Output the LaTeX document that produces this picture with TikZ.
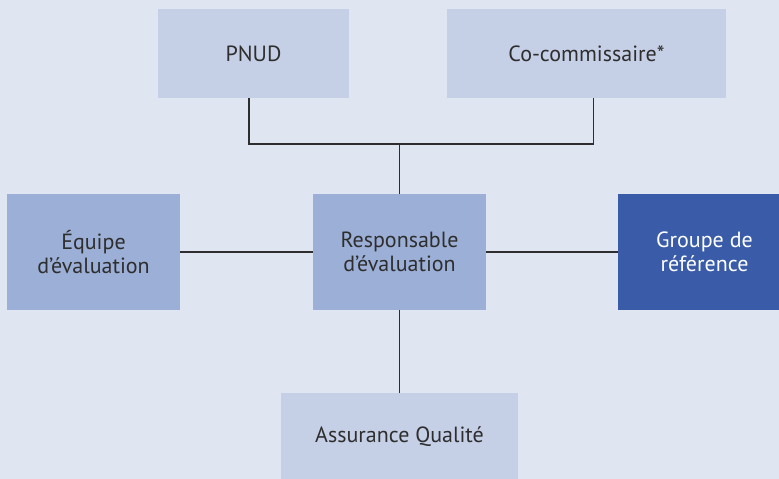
\documentclass[tikz,border=0pt]{standalone}
\usepackage{fontspec}
\setmainfont{PT Sans}
\definecolor{bgblue}{HTML}{E0E6F1}
\definecolor{paleblue}{HTML}{C5CFE6}
\definecolor{midblue}{HTML}{9CAFD6}
\definecolor{darkblue}{HTML}{3A5CA8}
\definecolor{inkgray}{HTML}{2E2E2E}
\tikzset{
  box/.style={rectangle, inner sep=0pt, align=center, text=inkgray,
    font=\fontsize{22}{24}\selectfont},
  palebox/.style={box, fill=paleblue},
  midbox/.style={box, fill=midblue},
  darkbox/.style={box, fill=darkblue, text=white},
  link/.style={draw=inkgray, line width=1.2pt}
}
\begin{document}
\begin{tikzpicture}[x=1pt,y=-1pt]
        \useasboundingbox (0,0) rectangle (779,479);
        \fill[bgblue] (0,0) rectangle (779,479);
        \clip (0,0) rectangle (779,479);
        \node[palebox, minimum width=191pt, minimum height=89pt] (pnud) at (253.5,53.5) {PNUD};
        \node[palebox, minimum width=279pt, minimum height=89pt] (cocom) at (586.5,53.5) {Co-commissaire*};
        \node[midbox, minimum width=173pt, minimum height=116pt] (equipe) at (93.5,252) {Équipe\\d’évaluation};
        \node[midbox, minimum width=173pt, minimum height=116pt] (resp) at (399.5,252) {Responsable\\d’évaluation};
        \node[darkbox, minimum width=173pt, minimum height=116pt] (groupe) at (704.5,252) {Groupe de\\référence};
        \node[palebox, minimum width=237pt, minimum height=88pt] (qualite) at (399.5,437) {Assurance Qualité};
        \coordinate (join) at (399.5,144);
        \draw[link] ([xshift=-4.5pt]pnud.south) |- (join) -| ([xshift=7pt]cocom.south);
        \draw[link] (join) -- (resp.north);
        \draw[link] (equipe) edge (resp) ;
        \draw[link] (resp) edge (groupe) ;
        \draw[link] (resp) edge (qualite) ;
      \end{tikzpicture}
\end{document}
